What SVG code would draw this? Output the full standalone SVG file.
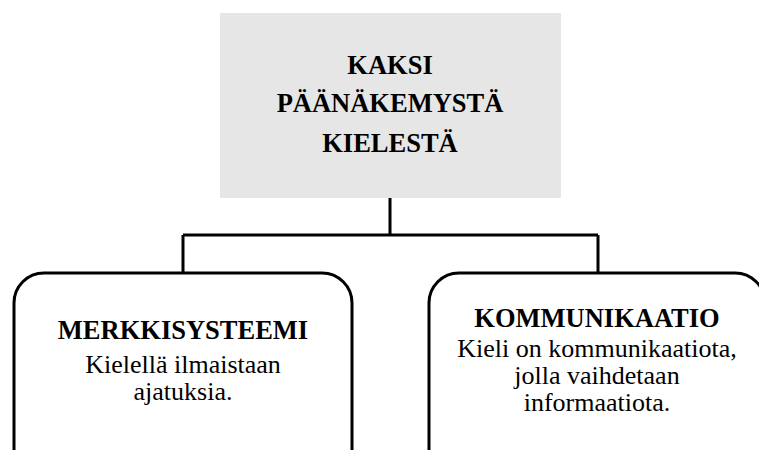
<svg xmlns="http://www.w3.org/2000/svg" width="759" height="450" viewBox="0 0 759 450">
  <style>
    text { font-family: 'Liberation Serif', 'DejaVu Serif', serif; fill: #000; text-anchor: middle; }
    .title { font-weight: bold; font-size: 26.5px; }
    .body { font-size: 26px; }
    .box { fill: #ffffff; stroke: #000; stroke-width: 3; }
    .conn { fill: none; stroke: #000; stroke-width: 3; }
  </style>
  <rect width="759" height="450" fill="#ffffff"/>

  <!-- connectors -->
  <g id="connectors">
    <path class="conn" d="M390 198 V235"/>
    <path class="conn" d="M183 235 H598"/>
    <path class="conn" d="M183 235 V273"/>
    <path class="conn" d="M598 235 V273"/>
  </g>

  <!-- root node -->
  <g id="root">
    <rect x="220" y="13" width="341" height="185" fill="#e6e6e6"/>
    <text class="title" x="390" y="74">KAKSI</text>
    <text class="title" x="390" y="112">PÄÄNÄKEMYSTÄ</text>
    <text class="title" x="390" y="152">KIELESTÄ</text>
  </g>

  <!-- left child -->
  <g id="merkkisysteemi">
    <rect class="box" x="14" y="273" width="338" height="220" rx="30" ry="30"/>
    <text class="title" x="183" y="339">MERKKISYSTEEMI</text>
    <text class="body" x="183" y="373">Kielellä ilmaistaan</text>
    <text class="body" x="183" y="400">ajatuksia.</text>
  </g>

  <!-- right child -->
  <g id="kommunikaatio">
    <rect class="box" x="429" y="273" width="336" height="220" rx="30" ry="30"/>
    <text class="title" x="597" y="327">KOMMUNIKAATIO</text>
    <text class="body" x="597" y="357">Kieli on kommunikaatiota,</text>
    <text class="body" x="597" y="384">jolla vaihdetaan</text>
    <text class="body" x="597" y="411">informaatiota.</text>
  </g>
</svg>
